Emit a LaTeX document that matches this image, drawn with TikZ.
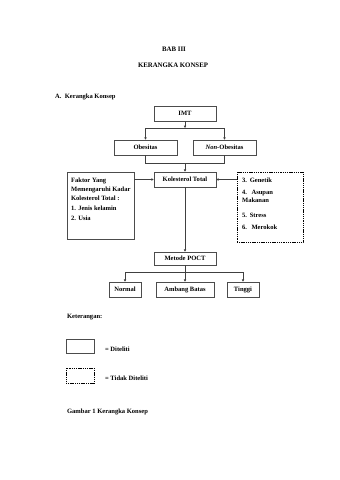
\documentclass[tikz,border=0pt]{standalone}
\usepackage{fontspec}
\setmainfont{Liberation Serif}
\usepackage{tikz}
\usetikzlibrary{arrows.meta}

\begin{document}
\begin{tikzpicture}[x=0.0618cm, y=-0.0618cm,
	boxsize/.style 2 args={minimum width=#1*0.0618cm, minimum height=#2*0.0618cm},
	box/.style={draw=black!70, line width=1pt, inner sep=0pt, font=\fontsize{11.5}{14}\selectfont\bfseries},
	dbox/.style={draw=black, line width=1.5pt, dash pattern=on 2pt off 1.2pt, inner sep=0pt},
	txt/.style={inner sep=0pt, font=\fontsize{11.5}{14}\selectfont\bfseries},
	con/.style={draw=black!75, line width=1pt},
	arr/.style={con, -{Triangle[length=4pt, width=4pt]}}]
	\useasboundingbox (0, 0) rectangle (340, 480);
	% Headings
	\node[txt, font=\fontsize{12}{14}\selectfont\bfseries] (bab) at (174, 49) {BAB III};
	\node[txt, font=\fontsize{12}{14}\selectfont\bfseries] (judul) at (173, 65) {KERANGKA KONSEP};
	\node[txt, anchor=west] (subbab) at (55, 97) {A.\hspace{6pt}Kerangka Konsep};
	% Boxes
	\node[box, boxsize={62}{15}] (imt) at (185, 113.5) {IMT};
	\node[box, boxsize={63}{15}] (obes) at (145.5, 147.5) {Obesitas};
	\node[box, boxsize={63}{15}] (nonobes) at (224.5, 147.5) {\itshape Non\upshape-Obesitas};
	\node[box, boxsize={62}{15}] (kol) at (185, 179.5) {Kolesterol Total};
	\node[box, boxsize={67}{67}] (faktor) at (100.5, 205.5) {};
	\node[dbox, boxsize={66}{70}] (lain) at (270, 207) {};
	\node[box, boxsize={62}{13}] (metode) at (185, 258.5) {Metode POCT};
	\node[box, boxsize={32}{15}] (normal) at (125, 289.5) {Normal};
	\node[box, boxsize={58}{15}] (ambang) at (185, 289.5) {Ambang Batas};
	\node[box, boxsize={32}{15}] (tinggi) at (243, 289.5) {Tinggi};
	% Texts in the side boxes
	\node[txt, anchor=north west, align=left, font=\fontsize{11.5}{15.8}\selectfont\bfseries]
		(faktortxt) at (71, 177.5) {Faktor Yang\\ Memengaruhi Kadar\\ Kolesterol Total :\\[1.8pt]
		1.\hspace{4pt}Jenis kelamin\\[1.8pt] 2.\hspace{4pt}Usia};
	\node[txt, anchor=north west, align=left, font=\fontsize{11.5}{13.2}\selectfont\bfseries]
		(laintxt) at (242, 177.5) {3.\hspace{5pt}Genetik\\[8.8pt] 4.\hspace{8pt}Asupan\\ Makanan\\[13.2pt]
		5.\hspace{5pt}Stress\\[8.8pt] 6.\hspace{8pt}Merokok};
	% Connectors
	\coordinate (split1) at (185, 128);
	\coordinate (join1) at (185, 163);
	\coordinate (split2) at (185, 272);
	\draw[arr] (imt) -- (split1);
	\draw[con] (split1 -| obes) -- (split1 -| nonobes);
	\draw[arr] (split1 -| obes) -- (obes.north);
	\draw[arr] (split1 -| nonobes) -- (nonobes.north);
	\draw[con] (obes.south) -- (join1 -| obes) -- (join1 -| nonobes) -- (nonobes.south);
	\draw[arr] (join1) -- (kol.north);
	\draw[arr] (faktor.east |- kol) -- (kol.west);
	\draw[arr] (lain.west |- kol) -- (kol.east);
	\draw[arr] (kol.south) -- (metode.north);
	\draw[arr] (metode.south) -- (ambang.north);
	\draw[con] (split2 -| normal) -- (split2 -| tinggi);
	\draw[arr] (split2 -| normal) -- (normal.north);
	\draw[arr] (split2 -| tinggi) -- (tinggi.north);
	% Legend
	\node[txt, anchor=west] (ket) at (67, 317) {Keterangan:};
	\node[box, boxsize={28}{14}] (legditeliti) at (80, 346) {};
	\node[txt, anchor=west] (diteliti) at (105, 349) {= Diteliti};
	\node[dbox, boxsize={28}{15}] (legtidak) at (80, 375.5) {};
	\node[txt, anchor=west] (tidak) at (105, 378) {= Tidak Diteliti};
	\node[txt, anchor=west] (gambar) at (67, 412) {Gambar 1 Kerangka Konsep};
\end{tikzpicture}
\end{document}
